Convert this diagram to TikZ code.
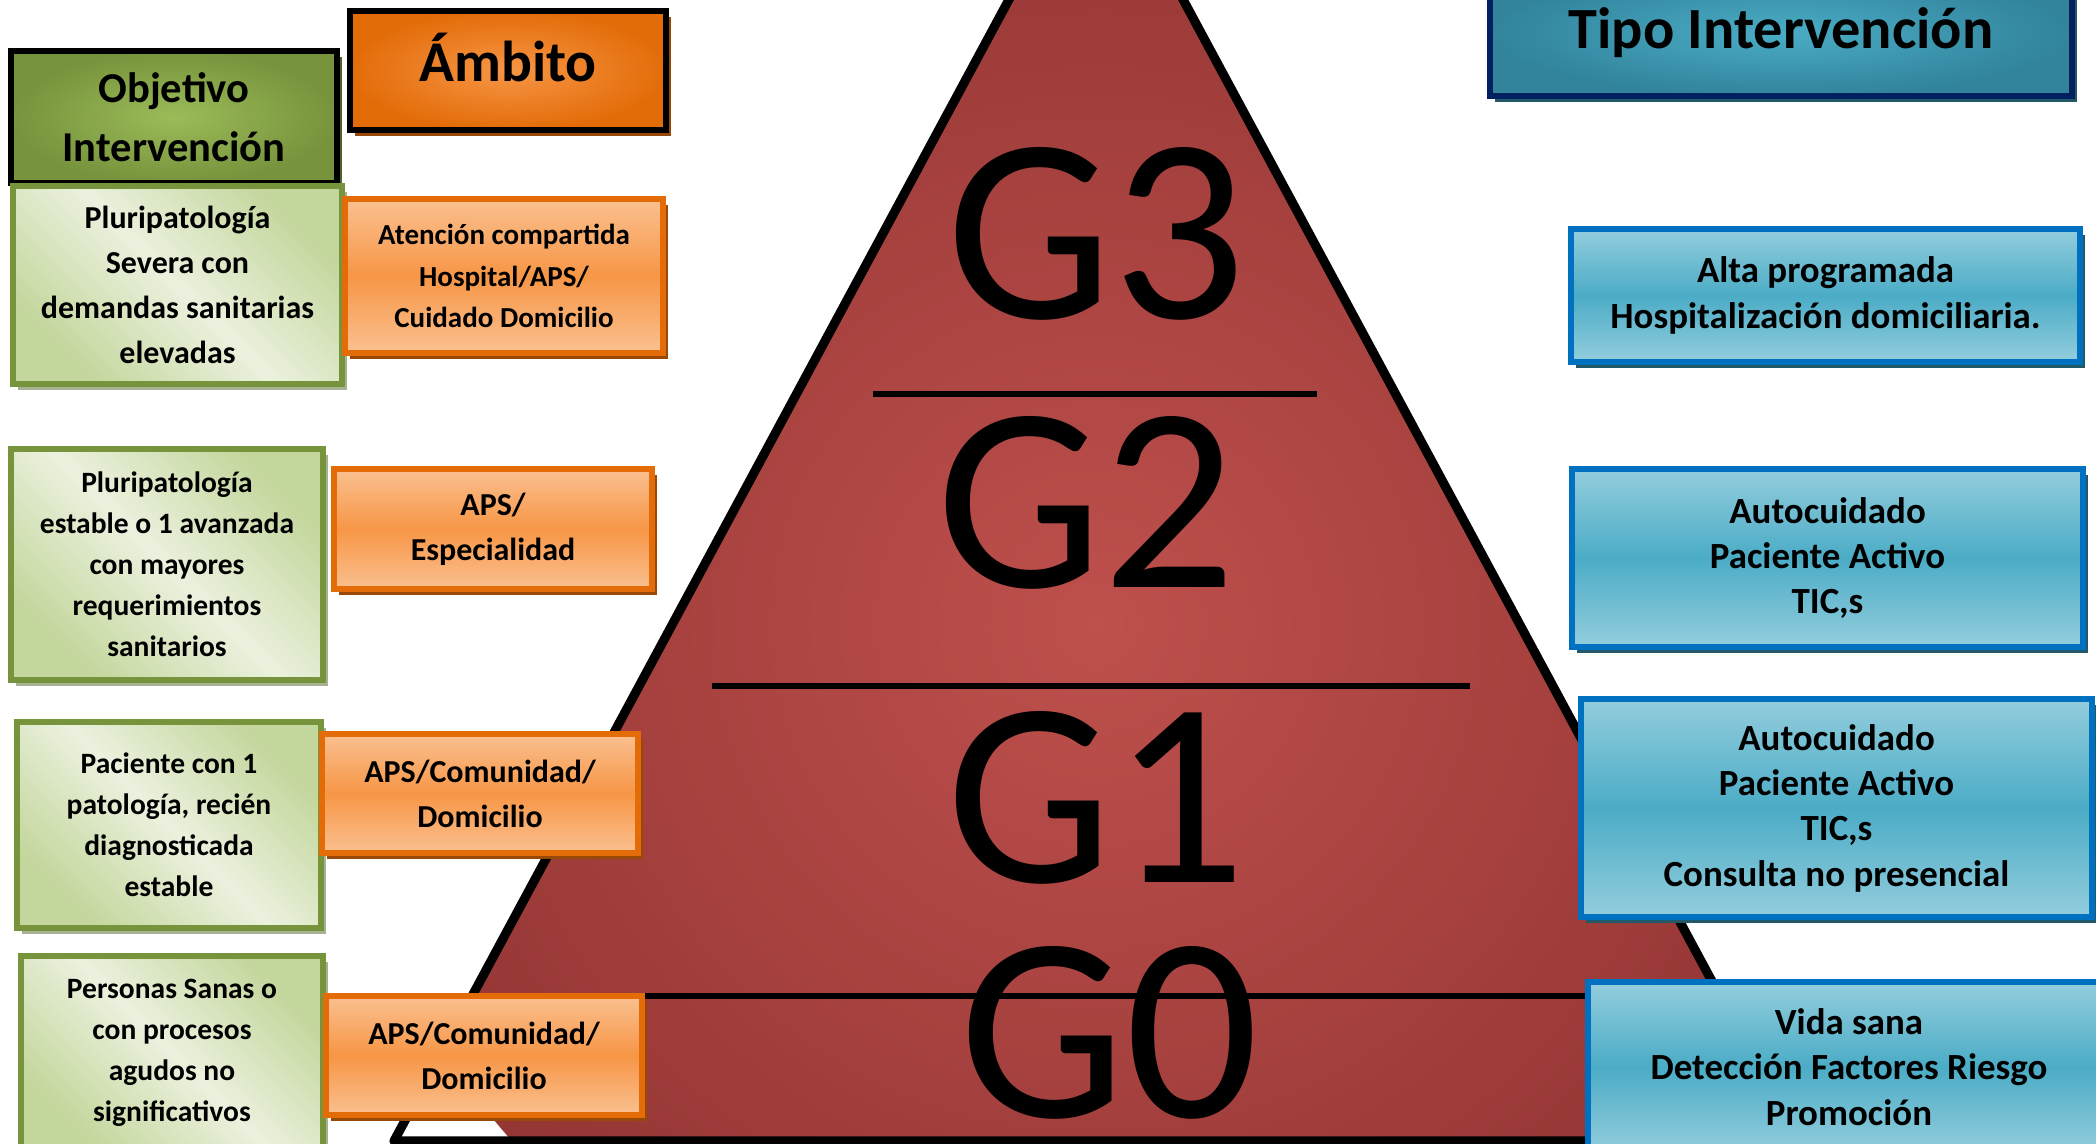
\documentclass[tikz,border=0pt]{standalone}
\usepackage{fontspec}
\setmainfont{Carlito}
\usetikzlibrary{shadows}
\definecolor{piroscura}{HTML}{943634}
\definecolor{pirclara}{HTML}{BE504D}
\definecolor{verdeosc}{HTML}{77933C}
\definecolor{verdecen}{HTML}{9BBB59}
\definecolor{verdeclaro}{HTML}{EBF1DE}
\definecolor{verdemed}{HTML}{C3D69B}
\definecolor{verdesombra}{HTML}{A6B292}
\definecolor{verdeoscsombra}{HTML}{4F6228}
\definecolor{naranjaosc}{HTML}{E36C09}
\definecolor{naranjacen}{HTML}{F79646}
\definecolor{naranjaclaro}{HTML}{FAC090}
\definecolor{naranjasombra}{HTML}{984807}
\definecolor{azulosc}{HTML}{31849B}
\definecolor{azulcen}{HTML}{4BACC6}
\definecolor{azulclaro}{HTML}{93CDDD}
\definecolor{azulborde}{HTML}{0070C0}
\definecolor{azulmarino}{HTML}{002060}
\definecolor{azulsombra}{HTML}{215968}
\tikzset{
  caja/.style={rectangle, inner sep=0pt, align=center, line width=1.8pt},
  sombra/.style={drop shadow={shadow xshift=0.05cm, shadow yshift=-0.06cm, opacity=1, fill=#1}},
  cabverde/.style={caja, draw=black, inner color=verdecen, outer color=verdeosc,
    sombra=verdeoscsombra, font=\fontsize{12.1}{16.8}\selectfont\bfseries},
  cabnaranja/.style={caja, draw=black, inner color=naranjacen, outer color=naranjaosc,
    sombra=naranjasombra, font=\fontsize{16.4}{20}\selectfont\bfseries},
  cabazul/.style={caja, draw=azulmarino, inner color=azulcen, outer color=azulosc,
    sombra=azulsombra, font=\fontsize{16.6}{20}\selectfont\bfseries},
  objetivo/.style={caja, draw=verdeosc, top color=verdemed, bottom color=verdemed,
    middle color=verdeclaro, shading angle=-45, sombra=verdesombra,
    font=\fontsize{8.4}{11.7}\selectfont\bfseries},
  ambito/.style={caja, draw=naranjaosc, top color=naranjaclaro, bottom color=naranjaclaro,
    middle color=naranjacen, sombra=naranjasombra,
    font=\fontsize{9.1}{12.8}\selectfont\bfseries},
  tipo/.style={caja, draw=azulborde, top color=azulclaro, bottom color=azulclaro,
    middle color=azulcen, sombra=azulsombra,
    font=\fontsize{10.5}{12.9}\selectfont\bfseries},
  nivel/.style={inner sep=0pt, font=\fontsize{75}{80}\selectfont}
}
\begin{document}
\begin{tikzpicture}
  \useasboundingbox (0,0) rectangle (20.96,11.44);
  \begin{scope}
    \clip (3.94,0.03) -- (10.96,13.06) -- (17.98,0.03) -- cycle;
    \shade[inner color=pirclara, outer color=piroscura] (10.96,5.2) circle (7.8);
  \end{scope}
  \draw[line width=2.6pt, line join=round] (3.94,0.03) -- (10.96,13.06) -- (17.98,0.03) -- cycle;
  \begin{scope}[line width=1.6pt]
    \draw (8.73,7.50) -- (13.17,7.50);
    \draw (7.12,4.58) -- (14.70,4.58);
    \draw (6.20,1.48) -- (16.20,1.48);
  \end{scope}
  \node[nivel] (g3) at (10.96,9.10) {G3};
  \node[nivel] (g2) at (10.86,6.41) {G2};
  \node[nivel] (g1) at (10.96,3.46) {G1};
  \node[nivel] (g0) at (11.09,1.11) {G0};

  \node[cabverde, minimum width=3.26cm, minimum height=1.32cm] (objcab) at (1.74,10.27) {Objetivo\\Intervención};
  \node[objetivo, minimum width=3.29cm, minimum height=1.98cm,
    font=\fontsize{9.1}{12.8}\selectfont\bfseries] (objg3) at (1.775,8.59)
    {Pluripatología\\Severa con\\demandas sanitarias\\elevadas};
  \node[objetivo, minimum width=3.12cm, minimum height=2.31cm] (objg2) at (1.67,5.795)
    {Pluripatología\\estable o 1 avanzada\\con mayores\\requerimientos\\sanitarios};
  \node[objetivo, minimum width=3.04cm, minimum height=2.06cm] (objg1) at (1.69,3.19)
    {Paciente con 1\\patología, recién\\diagnosticada\\estable};
  \node[objetivo, minimum width=3.02cm, minimum height=1.94cm] (objg0) at (1.72,0.91)
    {Personas Sanas o\\con procesos\\agudos no\\significativos};

  \node[cabnaranja, minimum width=3.16cm, minimum height=1.19cm, text depth=0.26cm] (ambcab) at (5.08,10.735) {Ámbito};
  \node[ambito, minimum width=3.18cm, minimum height=1.54cm,
    font=\fontsize{8.25}{11.7}\selectfont\bfseries] (ambg3) at (5.04,8.68)
    {Atención compartida\\Hospital/APS/\\Cuidado Domicilio};
  \node[ambito, minimum width=3.18cm, minimum height=1.20cm] (ambg2) at (4.93,6.15)
    {APS/\\Especialidad};
  \node[ambito, minimum width=3.16cm, minimum height=1.19cm] (ambg1) at (4.80,3.505)
    {APS/Comunidad/\\Domicilio};
  \node[ambito, minimum width=3.16cm, minimum height=1.19cm] (ambg0) at (4.84,0.885)
    {APS/Comunidad/\\Domicilio};

  \node[cabazul, minimum width=5.82cm, minimum height=1.26cm] (tipocab) at (17.81,11.11) {Tipo Intervención};
  \node[tipo, minimum width=5.09cm, minimum height=1.33cm] (tipog3) at (18.255,8.485)
    {Alta programada\\Hospitalización domiciliaria.};
  \node[tipo, minimum width=5.11cm, minimum height=1.78cm] (tipog2) at (18.275,5.86)
    {Autocuidado\\Paciente Activo\\TIC,s};
  \node[tipo, minimum width=5.11cm, minimum height=2.18cm] (tipog1) at (18.365,3.36)
    {Autocuidado\\Paciente Activo\\TIC,s\\Consulta no presencial};
  \node[tipo, minimum width=5.22cm, minimum height=1.70cm] (tipog0) at (18.49,0.77)
    {Vida sana\\Detección Factores Riesgo\\Promoción};
\end{tikzpicture}
\end{document}
